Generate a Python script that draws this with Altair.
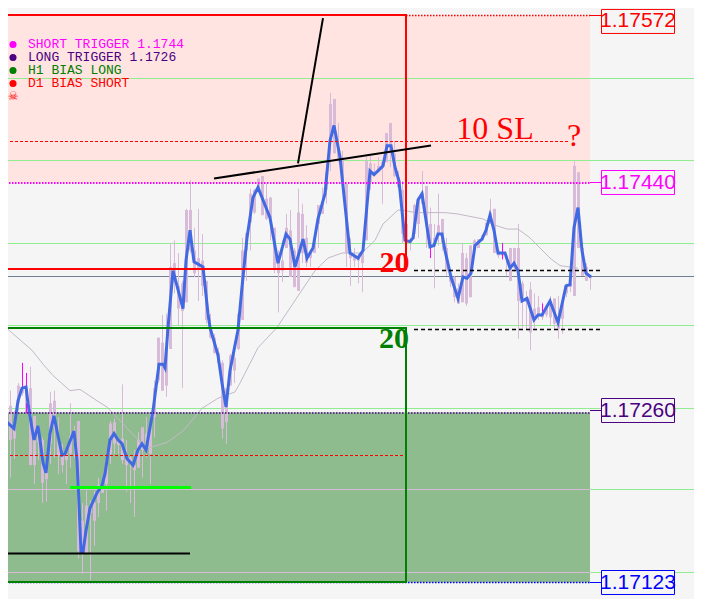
import altair as alt
import pandas as pd

# all prices are stored as points above 1.17000
BASE, POINT = 1.17, 1e-5
def px(p):
    return BASE + p * POINT

BAR_START, BAR_STEP = 2.5, 4

high = [267,285,275,259,281,277,277,294,255,247,
        238,218,274,275,254,233,225,265,247,251,
        186,196,188,196,206,201,220,251,253,236,
        280,236,224,228,242,246,254,258,283,317,
        335,336,392,394,384,362,419,442,404,419,
        399,362,336,320,309,299,277,304,305,337,
        396,400,435,435,443,445,439,428,404,386,
        394,415,418,388,435,423,406,386,396,422,
        436,449,511,506,487,465,439,396,388,384,
        384,460,461,455,460,456,479,487,473,449,
        441,420,396,423,428,449,437,420,407,431,
        411,396,368,366,360,392,384,390,395,395,
        399,408,427,419,386,384,382,388,388,407,
        362,354,361,352,350,345,342,350,348,350,
        349,360,373,457,448,388,376,366]
body_top = [267,258,263,249,279,277,277,277,255,247,
            236,217,265,267,238,224,225,239,243,251,
            172,184,184,186,200,198,220,249,250,236,
            237,222,222,216,236,246,241,249,277,317,
            313,308,373,376,358,360,418,418,386,380,
            378,362,325,317,305,297,277,303,301,336,
            386,400,431,434,443,445,427,428,404,380,
            378,404,402,386,416,415,396,384,394,422,
            423,448,502,506,468,460,439,384,382,382,
            384,457,455,449,453,456,479,487,463,444,
            434,407,395,422,428,431,437,407,396,406,
            411,388,366,365,356,384,380,390,394,395,
            398,408,416,419,386,384,382,388,388,388,
            360,349,355,340,341,336,341,346,348,333,
            344,358,360,453,448,388,373,365]
body_bottom = [242,242,236,237,265,273,257,216,216,234,
               202,205,233,246,224,216,220,225,234,148,
               147,146,178,172,186,194,201,225,233,232,
               220,216,217,212,214,228,230,225,254,283,
               275,279,308,360,340,338,345,386,368,372,
               358,331,317,305,297,245,250,279,291,308,
               331,386,408,416,434,414,411,412,372,368,
               370,388,365,357,354,384,376,380,384,407,
               415,434,473,463,457,439,384,380,378,378,
               376,394,440,447,448,453,456,463,445,436,
               399,392,392,399,407,423,407,390,392,399,
               392,370,361,349,344,345,344,349,388,388,
               394,398,407,384,382,382,380,362,372,346,
               346,345,321,331,335,333,335,333,328,324,
               332,352,357,350,388,366,362,364]
low = [235,239,206,221,259,271,257,216,201,220,
       186,187,217,222,209,210,201,214,222,142,
       130,146,125,152,175,194,180,217,225,225,
       217,195,186,175,214,206,222,201,238,281,
       275,270,308,352,327,277,345,384,365,346,
       350,328,316,304,296,237,233,279,281,307,
       331,362,386,415,432,414,410,394,368,337,
       361,388,365,357,354,376,373,373,384,388,
       415,423,449,463,456,436,373,358,373,360,
       353,394,434,447,448,423,456,452,444,436,
       392,390,386,395,396,423,388,380,356,390,
       386,366,357,345,344,345,342,349,388,388,
       394,398,407,384,380,382,366,362,369,316,
       325,323,307,324,331,331,333,327,323,316,
       320,349,353,350,388,366,362,355]

line_t = [0,7,14,18,22,26,28,32,34,38,40,43,46,50,54,57,62,65,74,77,79,81,83,86,90,97,102,105,110,114,
          118,122,127,133,138,142,146,148,153,159,163,165,168,173,183,186,190,194,203,208,210,218,222,226,230,238,242,247,253,258,
          270,278,286,290,295,303,307,313,318,325,330,334,340,350,358,363,370,374,383,387,391,395,399,405,410,413,418,422,430,434,
          438,442,445,451,458,463,467,471,475,482,486,490,494,498,505,510,514,518,522,527,534,538,542,550,558,566,570,574,578,582,586,591]
line_p = [261,250,245,267,277,278,265,245,236,247,236,218,210,241,255,243,224,225,243,220,186,147,147,164,182,194,200,209,236,241,
          236,233,221,216,228,233,228,237,259,296,296,293,325,370,340,378,402,377,373,336,325,303,281,262,291,323,357,396,428,436,
          412,376,399,395,373,395,380,388,411,431,473,485,460,384,380,386,449,446,453,469,469,452,441,394,393,396,426,431,389,390,
          399,399,386,365,348,365,364,368,390,395,402,414,402,384,384,372,376,370,346,348,331,335,335,346,329,358,359,404,420,386,368,365]

ma_t = [0,32,43,53,70,80,97,107,118,137,143,150,167,183,202,218,235,240,258,277,298,315,328,342,350,362,375,383,398,403,415,445,457,483,495,507,518,530,550,560,578]
ma_p = [329,307,296,287,275,276,267,262,253,237,230,230,234,243,261,269,274,281,309,325,350,370,380,384,384,384,394,407,418,418,416,416,415,411,406,403,403,396,380,374,372]

arrow_t = [22.5,26.5,26.5,430.5,502.5,542.5]
arrow_hi = [297,289,265,388,392,344]
arrow_lo = [277,277,257,380,379,336]

right_labels = ["1.17572","1.17440","1.17260","1.17123"]
right_levels = [572.12,439.856,259.28,123.056]
# the top box would run off the chart, so it is nudged inwards
right_box_centres = [567.4,439.856,259.28,123.056]
right_colors = ["#ff0000","#ff00ff","#4b0082","#0000ff"]

legend_texts = ["SHORT TRIGGER 1.1744","LONG TRIGGER  1.1726","H1 BIAS LONG","D1 BIAS SHORT"]
legend_levels = [549.2,538.9,528.6,518.3]
legend_colors = ["#ff00ff","#4b0082","#008000","#ff0000"]

BG = "#f5f5f5"
xs = alt.Scale(domain=[8,694], nice=False, zero=False, padding=0)
ys = alt.Scale(domain=[px(109.99),px(578.06)], nice=False, zero=False, padding=0)
X = lambda f="t": alt.X(f"{f}:Q", scale=xs, axis=None, title=None)
Y = lambda f="y": alt.Y(f"{f}:Q", scale=ys, axis=None, title=None)

def rect(t1,t2,p1,p2,**kw):
    d = pd.DataFrame({"t":[t1],"t2":[t2],"y":[px(p1)],"y2":[px(p2)]})
    return alt.Chart(d).mark_rect(clip=True,**kw).encode(x=X(),x2="t2:Q",y=Y(),y2="y2:Q")

def hline(p,t1,t2,color,width=1,dash=None):
    d = pd.DataFrame({"t":[t1],"t2":[t2],"y":[px(p)]})
    kw = {"strokeDash":dash} if dash else {}
    return alt.Chart(d).mark_rule(clip=True,color=color,strokeWidth=width,**kw).encode(x=X(),x2="t2:Q",y=Y())

def seg(t1,p1,t2,p2,color,width):
    d = pd.DataFrame({"t":[t1,t2],"y":[px(p1),px(p2)]})
    return alt.Chart(d).mark_line(clip=True,color=color,strokeWidth=width).encode(x=X(),y=Y())

def text(t,p,s,color,font,size,align="center",baseline="alphabetic",weight="normal"):
    d = pd.DataFrame({"t":[t],"y":[px(p)],"s":[s]})
    return alt.Chart(d).mark_text(color=color,font=font,fontSize=size,align=align,baseline=baseline,fontWeight=weight).encode(x=X(),y=Y(),text="s:N")

bar_t = [BAR_START + BAR_STEP*i for i in range(len(high))]
bars = pd.DataFrame({"t":bar_t,"h":[px(v) for v in high],"l":[px(v) for v in low],
                     "a":[px(v) for v in body_top],"b":[px(v) for v in body_bottom]})
THISTLE = "#d8bbd8"
wicks = alt.Chart(bars).mark_rule(clip=True,color=THISTLE,strokeWidth=1).encode(x=X(),y=Y("h"),y2="l:Q")
bodies = alt.Chart(bars).mark_bar(clip=True,color=THISTLE,size=3,orient="vertical").encode(x=X(),y=Y("a"),y2="b:Q")

arrows = alt.Chart(pd.DataFrame({"t":arrow_t,"h":[px(v) for v in arrow_hi],"l":[px(v) for v in arrow_lo]})).mark_rule(
    clip=True,color="#ff00ff",strokeWidth=1).encode(x=X(),y=Y("h"),y2="l:Q")

ma = alt.Chart(pd.DataFrame({"t":ma_t,"y":[px(v) for v in ma_p]})).mark_line(clip=True,color="#c4b8c8",strokeWidth=1).encode(x=X(),y=Y())
blue = alt.Chart(pd.DataFrame({"t":line_t,"y":[px(v) for v in line_p]})).mark_line(clip=True,color="#4169e1",strokeWidth=3).encode(x=X(),y=Y())

layers = [
    rect(0,590,572.12,439.856,color="#ffe4e1"),
    rect(0,590,257.696,123.056,color="#8fbc8f"),
]
for lvl in [522.224,457.28,391.544,326.6,260.864,196.712,130.976]:
    layers.append(hline(lvl,0,694,"#90ee90"))
layers += [hline(196.712,0,590,THISTLE),hline(130.976,0,590,THISTLE),hline(365.408,0,694,"#708090")]
layers += [wicks,bodies,arrows,ma,blue]

layers += [
    hline(472.328,0,570,"#ff0000",1,[3,2]),
    hline(223.64,0,405,"#ff0000",1,[3,2]),
    hline(370.16,414,603,"#000000",1.3,[4,3]),
    hline(323.432,414,603,"#000000",1.3,[4,3]),
    hline(572.12,406,590,"#ff0000",1.5,[1.5,1.5]),
    hline(439.5,0,590,"#ff00ff",2,[1.5,1.5]),
    hline(257.3,0,590,"#4b0082",1.5,[1.5,1.5]),
    hline(123.056,0,590,"#0000ff",1.5,[1.5,1.5]),
    rect(-10,406,572.516,371.35,fillOpacity=0,stroke="#ff0000",strokeWidth=2,fill="#ff0000"),
    rect(-10,406,324.62,123.45,fillOpacity=0,stroke="#008000",strokeWidth=2,fill="#008000"),
    hline(146.024,0,190,"#000000",2),
    hline(198.296,70,191,"#00ff00",3),
    seg(214,443,431,469.2,"#000000",2),
    seg(298,455,323,570,"#000000",2),
]
for lab,lvl,ctr,col in zip(right_labels,right_levels,right_box_centres,right_colors):
    layers.append(hline(lvl,590,602,col))
    layers.append(rect(601.5,674.5,ctr+9.5,ctr-9.5,color=BG,stroke=col,strokeWidth=1))
    layers.append(text(638,ctr,lab,col,"Liberation Sans",21,baseline="middle"))
for lab,lvl,col in zip(legend_texts,legend_levels,legend_colors):
    d = pd.DataFrame({"t":[13],"y":[px(lvl)]})
    layers.append(alt.Chart(d).mark_circle(color=col,opacity=1,size=50).encode(x=X(),y=Y()))
    layers.append(text(28,lvl,lab,col,"Liberation Mono",13,align="left",baseline="middle"))
layers += [
    text(13,508,"☠","#ff0000","DejaVu Sans",12,baseline="middle"),
    text(495,474,"10 SL","#ff0000","Liberation Serif",32),
    text(574,469,"?","#ff0000","Liberation Serif",32),
    text(394.5,368.6,"20","#ff0000","Liberation Serif",30,weight="bold"),
    text(394,309,"20","#008000","Liberation Serif",30,weight="bold"),
]

chart = alt.layer(*layers).properties(
    width=686,height=591,padding=0,background=BG,autosize=alt.AutoSizeParams(type="none")
).configure_view(stroke=None,fill=BG)

chart.save("out.html", embed_options={"renderer":"svg","actions":False})
